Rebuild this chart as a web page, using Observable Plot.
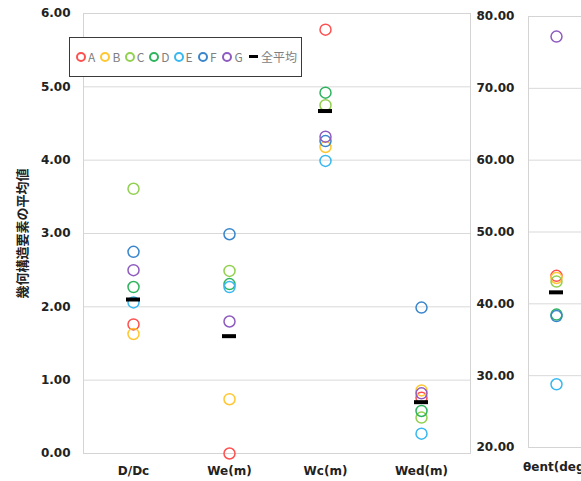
<!DOCTYPE html>
<html><head><meta charset="utf-8">
<script src="https://cdn.jsdelivr.net/npm/d3@7"></script>
<script src="https://cdn.jsdelivr.net/npm/@observablehq/plot@0.6"></script>
<style>
body{margin:0;background:#fff;}
#wrap{position:relative;width:581px;height:481px;overflow:hidden;background:#fff;}
#wrap svg{position:absolute;top:0;background:transparent;}
#legend{position:absolute;left:69px;top:37px;width:233px;height:40px;border:1.5px solid #3a3a3a;background:#fff;box-sizing:border-box;font-family:"Noto Sans CJK JP","Noto Sans",sans-serif;font-size:12px;color:#808080;}
.li{position:absolute;top:0;height:37px;display:flex;align-items:center;white-space:nowrap;}
.ci{width:6px;height:6px;border-radius:50%;border:2px solid;margin-right:2px;}
.dash{width:9px;height:3px;background:#000;margin-right:3px;}
</style></head>
<body>
<div id="wrap"><div id="legend"></div></div>
<script>
const series = ["A","B","C","D","E","F","G"];
const seriesColors = ["#ff5050","#ffc732","#92d050","#2fb35f","#38b8f0","#3a86cc","#8e5cc0"];
const categories = ["D/Dc","We(m)","Wc(m)","Wed(m)"];
const rightCategory = "θent(deg)";
const yTicksLeft = [0,1,2,3,4,5,6];
const yTicksRight = [20,30,40,50,60,70,80];
const yLabel = "幾何構造要素の平均値";
const meanLabel = "全平均";
// values per series: D/Dc, We(m), Wc(m), Wed(m), θent(deg)
const valA = [1.76, 0.00, 5.78, 0.76, 43.9];
const valB = [1.63, 0.74, 4.18, 0.86, 43.6];
const valC = [3.61, 2.49, 4.75, 0.49, 43.1];
const valD = [2.27, 2.31, 4.92, 0.58, 38.5];
const valE = [2.06, 2.27, 3.99, 0.27, 28.8];
const valF = [2.75, 2.99, 4.26, 1.99, 38.3];
const valG = [2.50, 1.80, 4.32, 0.82, 77.2];
const valMean = [2.10, 1.60, 4.67, 0.70, 41.6];

const allVals = [valA,valB,valC,valD,valE,valF,valG];
const allCats = [...categories, rightCategory];
const points = [];
series.forEach((s,i)=>allVals[i].forEach((v,j)=>points.push({s, cat: allCats[j], v})));
const means = valMean.map((v,j)=>({cat: allCats[j], v}));
const leftPts = points.filter(d=>d.cat!==rightCategory);
const rightPts = points.filter(d=>d.cat===rightCategory);
const leftMeans = means.filter(d=>d.cat!==rightCategory);
const rightMeans = means.filter(d=>d.cat===rightCategory);

const color = {domain: series, range: seriesColors};
const baseStyle = {fontFamily:"DejaVu Sans, sans-serif", fontSize:"12px", fontWeight:"bold", color:"#222", background:"transparent"};

const left = Plot.plot({
  width: 472, height: 481,
  marginLeft: 83, marginRight: 2, marginTop: 13, marginBottom: 28,
  style: baseStyle,
  color,
  x: {type:"band", domain: categories, padding: 0},
  y: {domain:[0,6]},
  marks: [
    Plot.gridY(yTicksLeft, {stroke:"#d9d9d9", strokeOpacity:1}),
    Plot.frame({stroke:"#d4d4d4"}),
    Plot.axisY(yTicksLeft, {tickSize:0, tickPadding:13, tickFormat: d=>d.toFixed(2), label:null}),
    Plot.axisX({tickSize:0, tickPadding:13, label:null}),
    Plot.text([yLabel], {frameAnchor:"left", textAnchor:"middle", rotate:-90, dx:-61, fontFamily:"Noto Sans CJK JP", fontSize:13, fontWeight:"bold", fill:"#222"}),
    Plot.dot(leftPts, {x:"cat", y:"v", stroke:"s", r:5.5, strokeWidth:1.5, fill:"none"}),
    Plot.tickY(leftMeans, {x:"cat", y:"v", stroke:"#000", strokeWidth:4, insetLeft:41, insetRight:41})
  ]
});
left.style.left = "0px";

const right = Plot.plot({
  width: 120, height: 481,
  marginLeft: 58, marginRight: 6, marginTop: 16, marginBottom: 34,
  style: baseStyle,
  color,
  x: {type:"band", domain: [rightCategory], padding: 0},
  y: {domain:[20,80]},
  marks: [
    Plot.gridY(yTicksRight, {stroke:"#d9d9d9", strokeOpacity:1}),
    Plot.frame({stroke:"#d4d4d4"}),
    Plot.axisY(yTicksRight, {anchor:"left", tickSize:0, tickPadding:52, textAnchor:"start", tickFormat: d=>d.toFixed(2), label:null}),
    Plot.axisX({tickSize:0, tickPadding:15, label:null}),
    Plot.dot(rightPts, {x:"cat", y:"v", stroke:"s", r:5.5, strokeWidth:1.5, fill:"none"}),
    Plot.tickY(rightMeans, {x:"cat", y:"v", stroke:"#000", strokeWidth:4, insetLeft:21, insetRight:21})
  ]
});
right.style.left = "470px";

const wrap = document.getElementById("wrap");
wrap.insertBefore(left, wrap.firstChild);
wrap.insertBefore(right, document.getElementById("legend"));

// legend
const legend = document.getElementById("legend");
series.forEach((s,i)=>{
  const it = document.createElement("div");
  it.className = "li";
  it.style.left = (6 + i*24.4) + "px";
  const c = document.createElement("span"); c.className="ci"; c.style.borderColor = seriesColors[i];
  const t = document.createElement("span"); t.textContent = s;
  it.append(c,t); legend.append(it);
});
const mi = document.createElement("div"); mi.className="li"; mi.style.left = "179px";
const md = document.createElement("span"); md.className="dash";
const mt = document.createElement("span"); mt.textContent = meanLabel;
mi.append(md, mt); legend.append(mi);
</script>
</body></html>
